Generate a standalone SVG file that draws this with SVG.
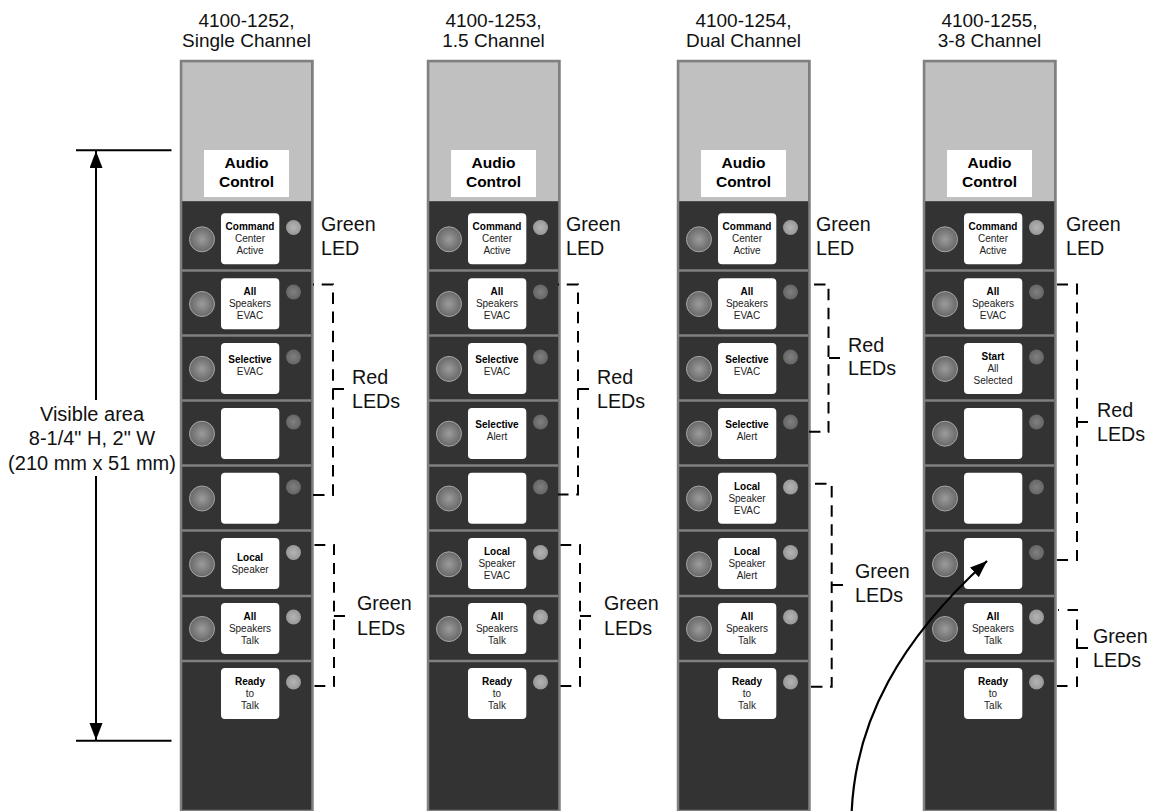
<svg xmlns="http://www.w3.org/2000/svg" width="1151" height="811" viewBox="0 0 1151 811">
<style>
text{font-family:"Liberation Sans",Arial,sans-serif;fill:#111}
.lbl{font-size:19.7px}
.vis{font-size:20px;text-anchor:middle}
.ttl{font-size:19px;text-anchor:middle}
.aud{font-size:15.5px;font-weight:bold;text-anchor:middle;fill:#000}
.c{font-size:10px;text-anchor:middle;fill:#222}
.b{font-weight:bold;fill:#000}
.lg{fill:url(#gl)}
.lr{fill:url(#rl)}
.br{fill:none;stroke:#000;stroke-width:2}
.ti{fill:none;stroke:#000;stroke-width:2}
.dim{fill:none;stroke:#000;stroke-width:2}
</style>
<defs>
<radialGradient id="bt"><stop offset="0" stop-color="#9c9c9c"/><stop offset="1" stop-color="#686868"/></radialGradient>
<radialGradient id="gl"><stop offset="0" stop-color="#b4b4b4"/><stop offset="1" stop-color="#989898"/></radialGradient>
<radialGradient id="rl"><stop offset="0" stop-color="#808080"/><stop offset="1" stop-color="#666"/></radialGradient>
<marker id="ah" markerUnits="userSpaceOnUse" markerWidth="18" markerHeight="14" refX="17" refY="6.5" orient="auto"><path d="M0 0L17 6.5L0 13z" fill="#000"/></marker>
<circle id="btn" cx="202" r="12.5" fill="url(#bt)" stroke="#a6a6a6" stroke-width="1"/>
<rect id="card" x="221" width="58.3" height="51" rx="4" fill="#fff"/>
<g id="panel-base">
<rect x="181" y="61" width="131.5" height="750" fill="#333" stroke="#808080" stroke-width="2.5"/>
<rect x="182.2" y="62.2" width="129" height="139" fill="#c0c0c0"/>
<rect x="204" y="150" width="85" height="47" fill="#fff"/>
<path d="M182 270.5H311M182 335.5H311M182 400.5H311M182 465.5H311M182 530.5H311M182 596H311M182 661H311" fill="none" stroke="#808080" stroke-width="2.5"/>
<use href="#btn" y="239.3"/><use href="#btn" y="304"/><use href="#btn" y="368.9"/><use href="#btn" y="433.7"/><use href="#btn" y="498.5"/><use href="#btn" y="564.3"/><use href="#btn" y="629"/>
<use href="#card" y="213.3"/><use href="#card" y="278.3"/><use href="#card" y="343.1"/><use href="#card" y="408"/><use href="#card" y="472.8"/><use href="#card" y="538"/><use href="#card" y="603"/><use href="#card" y="668"/>
<text class="aud" x="246.5" y="168">Audio</text><text class="aud" x="246.5" y="187">Control</text>
</g>
</defs>
<rect width="1151" height="811" fill="#fff"/>

<g id="panel-1">
<use href="#panel-base"/>
<text class="ttl" x="246.5" y="27">4100-1252,</text><text class="ttl" x="246.5" y="47">Single Channel</text>
<g><circle class="lg" cx="293.5" cy="227.5" r="7.5"/><text class="c b" x="250" y="230">Command</text><text class="c" x="250" y="242">Center</text><text class="c" x="250" y="254">Active</text></g>
<g><circle class="lr" cx="293.5" cy="292" r="7.5"/><text class="c b" x="250" y="295">All</text><text class="c" x="250" y="307">Speakers</text><text class="c" x="250" y="319">EVAC</text></g>
<g><circle class="lr" cx="293.5" cy="357" r="7.5"/><text class="c b" x="250" y="363">Selective</text><text class="c" x="250" y="375">EVAC</text></g>
<g><circle class="lr" cx="293.5" cy="422" r="7.5"/></g>
<g><circle class="lr" cx="293.5" cy="487" r="7.5"/></g>
<g><circle class="lg" cx="293.5" cy="552.5" r="7.5"/><text class="c b" x="250" y="561">Local</text><text class="c" x="250" y="573">Speaker</text></g>
<g><circle class="lg" cx="293.5" cy="617" r="7.5"/><text class="c b" x="250" y="620">All</text><text class="c" x="250" y="632">Speakers</text><text class="c" x="250" y="644">Talk</text></g>
<g><circle class="lg" cx="293.5" cy="682" r="7.5"/><text class="c b" x="250" y="685">Ready</text><text class="c" x="250" y="697">to</text><text class="c" x="250" y="709">Talk</text></g>
</g>

<g id="panel-2" transform="translate(247 0)">
<use href="#panel-base"/>
<text class="ttl" x="246.5" y="27">4100-1253,</text><text class="ttl" x="246.5" y="47">1.5 Channel</text>
<g><circle class="lg" cx="293.5" cy="227.5" r="7.5"/><text class="c b" x="250" y="230">Command</text><text class="c" x="250" y="242">Center</text><text class="c" x="250" y="254">Active</text></g>
<g><circle class="lr" cx="293.5" cy="292" r="7.5"/><text class="c b" x="250" y="295">All</text><text class="c" x="250" y="307">Speakers</text><text class="c" x="250" y="319">EVAC</text></g>
<g><circle class="lr" cx="293.5" cy="357" r="7.5"/><text class="c b" x="250" y="363">Selective</text><text class="c" x="250" y="375">EVAC</text></g>
<g><circle class="lr" cx="293.5" cy="422" r="7.5"/><text class="c b" x="250" y="428">Selective</text><text class="c" x="250" y="440">Alert</text></g>
<g><circle class="lr" cx="293.5" cy="487" r="7.5"/></g>
<g><circle class="lg" cx="293.5" cy="552.5" r="7.5"/><text class="c b" x="250" y="555">Local</text><text class="c" x="250" y="567">Speaker</text><text class="c" x="250" y="579">EVAC</text></g>
<g><circle class="lg" cx="293.5" cy="617" r="7.5"/><text class="c b" x="250" y="620">All</text><text class="c" x="250" y="632">Speakers</text><text class="c" x="250" y="644">Talk</text></g>
<g><circle class="lg" cx="293.5" cy="682" r="7.5"/><text class="c b" x="250" y="685">Ready</text><text class="c" x="250" y="697">to</text><text class="c" x="250" y="709">Talk</text></g>
</g>

<g id="panel-3" transform="translate(497 0)">
<use href="#panel-base"/>
<text class="ttl" x="246.5" y="27">4100-1254,</text><text class="ttl" x="246.5" y="47">Dual Channel</text>
<g><circle class="lg" cx="293.5" cy="227.5" r="7.5"/><text class="c b" x="250" y="230">Command</text><text class="c" x="250" y="242">Center</text><text class="c" x="250" y="254">Active</text></g>
<g><circle class="lr" cx="293.5" cy="292" r="7.5"/><text class="c b" x="250" y="295">All</text><text class="c" x="250" y="307">Speakers</text><text class="c" x="250" y="319">EVAC</text></g>
<g><circle class="lr" cx="293.5" cy="357" r="7.5"/><text class="c b" x="250" y="363">Selective</text><text class="c" x="250" y="375">EVAC</text></g>
<g><circle class="lr" cx="293.5" cy="422" r="7.5"/><text class="c b" x="250" y="428">Selective</text><text class="c" x="250" y="440">Alert</text></g>
<g><circle class="lg" cx="293.5" cy="487" r="7.5"/><text class="c b" x="250" y="490">Local</text><text class="c" x="250" y="502">Speaker</text><text class="c" x="250" y="514">EVAC</text></g>
<g><circle class="lg" cx="293.5" cy="552.5" r="7.5"/><text class="c b" x="250" y="555">Local</text><text class="c" x="250" y="567">Speaker</text><text class="c" x="250" y="579">Alert</text></g>
<g><circle class="lg" cx="293.5" cy="617" r="7.5"/><text class="c b" x="250" y="620">All</text><text class="c" x="250" y="632">Speakers</text><text class="c" x="250" y="644">Talk</text></g>
<g><circle class="lg" cx="293.5" cy="682" r="7.5"/><text class="c b" x="250" y="685">Ready</text><text class="c" x="250" y="697">to</text><text class="c" x="250" y="709">Talk</text></g>
</g>

<g id="panel-4" transform="translate(743 0)">
<use href="#panel-base"/>
<text class="ttl" x="246.5" y="27">4100-1255,</text><text class="ttl" x="246.5" y="47">3-8 Channel</text>
<g><circle class="lg" cx="293.5" cy="227.5" r="7.5"/><text class="c b" x="250" y="230">Command</text><text class="c" x="250" y="242">Center</text><text class="c" x="250" y="254">Active</text></g>
<g><circle class="lr" cx="293.5" cy="292" r="7.5"/><text class="c b" x="250" y="295">All</text><text class="c" x="250" y="307">Speakers</text><text class="c" x="250" y="319">EVAC</text></g>
<g><circle class="lr" cx="293.5" cy="357" r="7.5"/><text class="c b" x="250" y="360">Start</text><text class="c" x="250" y="372">All</text><text class="c" x="250" y="384">Selected</text></g>
<g><circle class="lr" cx="293.5" cy="422" r="7.5"/></g>
<g><circle class="lr" cx="293.5" cy="487" r="7.5"/></g>
<g><circle class="lr" cx="293.5" cy="552.5" r="7.5"/></g>
<g><circle class="lg" cx="293.5" cy="617" r="7.5"/><text class="c b" x="250" y="620">All</text><text class="c" x="250" y="632">Speakers</text><text class="c" x="250" y="644">Talk</text></g>
<g><circle class="lg" cx="293.5" cy="682" r="7.5"/><text class="c b" x="250" y="685">Ready</text><text class="c" x="250" y="697">to</text><text class="c" x="250" y="709">Talk</text></g>
</g>

<g id="labels">
<text class="lbl" x="321" y="231">Green</text><text class="lbl" x="321" y="255">LED</text>
<text class="lbl" x="566" y="231">Green</text><text class="lbl" x="566" y="255">LED</text>
<text class="lbl" x="816" y="231">Green</text><text class="lbl" x="816" y="255">LED</text>
<text class="lbl" x="1066" y="231">Green</text><text class="lbl" x="1066" y="255">LED</text>
<text class="lbl" x="352" y="384">Red</text><text class="lbl" x="352" y="408">LEDs</text>
<text class="lbl" x="597" y="384">Red</text><text class="lbl" x="597" y="408">LEDs</text>
<text class="lbl" x="848" y="352">Red</text><text class="lbl" x="848" y="375">LEDs</text>
<text class="lbl" x="1097" y="417">Red</text><text class="lbl" x="1097" y="441">LEDs</text>
<text class="lbl" x="357" y="610">Green</text><text class="lbl" x="357" y="635">LEDs</text>
<text class="lbl" x="604" y="610">Green</text><text class="lbl" x="604" y="635">LEDs</text>
<text class="lbl" x="855" y="578">Green</text><text class="lbl" x="855" y="602">LEDs</text>
<text class="lbl" x="1093" y="643">Green</text><text class="lbl" x="1093" y="667">LEDs</text>
<text class="vis" x="92" y="421">Visible area</text><text class="vis" x="92" y="445">8-1/4" H, 2" W</text><text class="vis" x="92" y="470">(210 mm x 51 mm)</text>
</g>

<g id="connectors">
<path class="br" stroke-dasharray="11.5 7.69" stroke-dashoffset="10.5" d="M313 284.5H333V495H313"/><path class="ti" d="M333 389H344"/>
<path class="br" stroke-dasharray="11.5 7.73" stroke-dashoffset="10.5" d="M558 284.5H578V494.5H558"/><path class="ti" d="M578 389H589"/>
<path class="br" stroke-dasharray="11.5 7.36" d="M814 284.5H828.5V431.7H809"/><path class="ti" d="M829 358H840"/>
<path class="br" stroke-dasharray="11.5 7.58" d="M815 483.7H831.7V686.7H811"/><path class="ti" d="M832 585H843"/>
<path class="br" stroke-dasharray="10.8 8" d="M314.5 545H334V686H314"/><path class="ti" d="M334 616H345"/>
<path class="br" stroke-dasharray="10.8 8" d="M560.5 545H580V686H560"/><path class="ti" d="M580 616H591"/>
<path class="br" stroke-dasharray="11 8.03" d="M1057 284.5H1077V560H1057"/><path class="ti" d="M1077 422H1088"/>
<path class="br" stroke-dasharray="10.5 8.5" stroke-dashoffset="9.5" d="M1058 610H1077V686H1057"/><path class="ti" d="M1077 648H1088"/>
<path class="dim" d="M76 150.3H171.5M76 740.7H171.5"/>
<path class="dim" d="M96 400V151" marker-end="url(#ah)"/>
<path class="dim" d="M96 476V740" marker-end="url(#ah)"/>
<path fill="none" stroke="#000" stroke-width="2.2" d="M851.7 811C856 720 900 640 987 561" marker-end="url(#ah)"/>
</g>
</svg>
